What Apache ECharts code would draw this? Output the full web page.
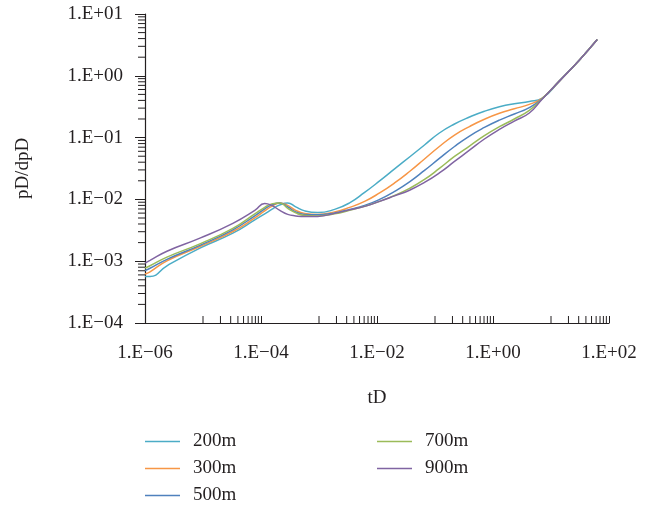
<!DOCTYPE html>
<html><head><meta charset="utf-8">
<script src="https://cdn.jsdelivr.net/npm/echarts@6/dist/echarts.min.js"></script>
<style>html,body{margin:0;padding:0;background:#fff}#c{width:657px;height:505px}</style>
</head><body><div id="c"></div>
<script>
// dimensionless time tD (shared abscissa)
const tD = [1e-6, 1.22e-6, 2.39e-6, 8.85e-6, 3.27e-5, 7.82e-5, 1.16e-4, 1.53e-4, 2.11e-4, 2.89e-4,
  3.97e-4, 5.68e-4, 9.51e-4, 1.86e-3, 3.37e-3, 6.12e-3, 1.11e-2, 2.01e-2, 3.64e-2, 6.59e-2,
  0.119, 0.217, 0.393, 0.711, 1.29, 2.33, 4.23, 7.08, 13.9, 30.7, 62.7];

const p200 = [5.66e-4, 5.66e-4, 8.43e-4, 1.628e-3, 2.84e-3, 4.66e-3, 5.83e-3, 6.89e-3, 8.15e-3, 8.78e-3,
  7.56e-3, 6.52e-3, 6.12e-3, 6.89e-3, 8.78e-3, 1.297e-2, 1.99e-2, 3.11e-2, 4.86e-2, 7.60e-2,
  0.1187, 0.166, 0.215, 0.267, 0.316, 0.354, 0.383, 0.436, 0.82, 1.79, 3.87];
const p300 = [6.19e-4, 6.74e-4, 1.015e-3, 1.728e-3, 3.02e-3, 5.02e-3, 6.52e-3, 7.71e-3, 8.78e-3, 8.0e-3,
  6.64e-3, 5.94e-3, 5.72e-3, 6.28e-3, 7.43e-3, 9.28e-3, 1.274e-2, 1.847e-2, 2.83e-2, 4.51e-2,
  7.18e-2, 0.110, 0.151, 0.198, 0.247, 0.292, 0.345, 0.436, 0.82, 1.79, 3.87];
const p500 = [7.08e-4, 7.68e-4, 1.073e-3, 1.806e-3, 3.22e-3, 5.41e-3, 7.02e-3, 8.15e-3, 8.78e-3, 7.56e-3,
  6.28e-3, 5.72e-3, 5.62e-3, 6.05e-3, 6.89e-3, 8.0e-3, 1.0e-2, 1.346e-2, 1.92e-2, 2.94e-2,
  4.60e-2, 7.18e-2, 0.106, 0.146, 0.192, 0.241, 0.306, 0.428, 0.82, 1.79, 3.87];
const p700 = [7.73e-4, 8.43e-4, 1.165e-3, 1.91e-3, 3.40e-3, 5.83e-3, 7.43e-3, 8.46e-3, 8.78e-3, 7.15e-3,
  6.05e-3, 5.51e-3, 5.41e-3, 5.83e-3, 6.64e-3, 7.71e-3, 9.28e-3, 1.16e-2, 1.505e-2, 2.10e-2,
  3.17e-2, 4.95e-2, 7.31e-2, 0.1073, 0.150, 0.200, 0.276, 0.428, 0.82, 1.79, 3.87];
const p900 = [9.32e-4, 1.03e-3, 1.45e-3, 2.36e-3, 4.10e-3, 6.64e-3, 8.62e-3, 8.00e-3, 6.64e-3, 5.72e-3,
  5.41e-3, 5.27e-3, 5.31e-3, 5.94e-3, 6.77e-3, 7.71e-3, 9.28e-3, 1.139e-2, 1.408e-2, 1.88e-2,
  2.68e-2, 4.11e-2, 6.26e-2, 9.49e-2, 0.136, 0.185, 0.25, 0.42, 0.82, 1.79, 3.87];

const names = ['200m', '300m', '500m', '700m', '900m'];
const values = [p200, p300, p500, p700, p900];
const colors = ['#4bacc6', '#f79646', '#4f81bd', '#9bbb59', '#8064a2'];

// axis ranges / ticks
const xMin = 1e-6, xMax = 1e2;
const yMin = 1e-4, yMax = 1e1;
const xMajorDecades = [-6, -4, -2, 0];
const yDecades = [-4, -3, -2, -1, 0];

const xMinor = [];
xMajorDecades.forEach(e => { for (let m = 1; m <= 9; m++) xMinor.push(m * Math.pow(10, e + 1)); });
const yMinor = [];
yDecades.forEach(e => { for (let m = 2; m <= 9; m++) yMinor.push(m * Math.pow(10, e)); });

const FONT = '"Liberation Serif", "DejaVu Serif", serif';
const INK = '#231f20';
const FS = 19;

function fmtExp(v) {
  const e = Math.round(Math.log10(v));
  const a = Math.abs(e);
  return '1.E' + (e < 0 ? '\u2212' : '+') + (a < 10 ? '0' : '') + a;
}

const lineSeries = names.map((n, i) => ({
  name: n, type: 'line', symbol: 'none', smooth: 0.5,
  data: tD.map((t, j) => [t, values[i][j]]),
  lineStyle: { color: colors[i], width: 1.5 },
  itemStyle: { color: colors[i] },
  z: 3
}));

const tickStyle = { stroke: INK, lineWidth: 1 };
const minorX = {
  type: 'custom', silent: true, clip: false, z: 4,
  data: xMinor.map(v => [v, yMin]),
  renderItem: (params, api) => {
    const p = api.coord([api.value(0), api.value(1)]);
    return { type: 'line', shape: { x1: p[0], y1: p[1], x2: p[0], y2: p[1] - 7 }, style: tickStyle };
  }
};
const minorY = {
  type: 'custom', silent: true, clip: false, z: 4,
  data: yMinor.map(v => [xMin, v]),
  renderItem: (params, api) => {
    const p = api.coord([api.value(0), api.value(1)]);
    return { type: 'line', shape: { x1: p[0] - 7, y1: p[1], x2: p[0], y2: p[1] }, style: tickStyle };
  }
};

const legendCommon = {
  orient: 'vertical', top: 432, height: 100, padding: 0, icon: 'rect',
  itemWidth: 35, itemHeight: 1.5, itemGap: 8,
  textStyle: { fontFamily: FONT, fontSize: FS, color: INK, padding: [0, 0, 0, 8] }
};

const chart = echarts.init(document.getElementById('c'));
chart.setOption({
  animation: false,
  backgroundColor: '#fff',
  grid: { left: 145, right: 48, top: 14, bottom: 182 },
  legend: [
    Object.assign({ left: 145, data: names.slice(0, 3) }, legendCommon),
    Object.assign({ left: 377, data: names.slice(3) }, legendCommon)
  ],
  xAxis: {
    type: 'log', logBase: 10, min: xMin, max: xMax, interval: 2,
    name: 'tD', nameLocation: 'middle', nameGap: 66,
    nameTextStyle: { fontFamily: FONT, fontSize: FS, color: INK },
    axisLine: { lineStyle: { color: INK, width: 1.2 } },
    axisTick: { inside: true, length: 7, lineStyle: { color: INK } },
    axisLabel: { formatter: fmtExp, fontFamily: FONT, fontSize: FS, color: INK, margin: 21 },
    splitLine: { show: false }
  },
  yAxis: {
    type: 'log', logBase: 10, min: yMin, max: yMax, interval: 1,
    name: 'pD/dpD', nameLocation: 'middle', nameGap: 112, nameRotate: 90,
    nameTextStyle: { fontFamily: FONT, fontSize: FS, color: INK },
    axisLine: { lineStyle: { color: INK, width: 1.2 } },
    axisTick: { inside: false, length: 10, lineStyle: { color: INK } },
    axisLabel: { formatter: fmtExp, fontFamily: FONT, fontSize: FS, color: INK, margin: 22 },
    splitLine: { show: false }
  },
  series: lineSeries.concat([minorX, minorY])
});
</script>
</body></html>
